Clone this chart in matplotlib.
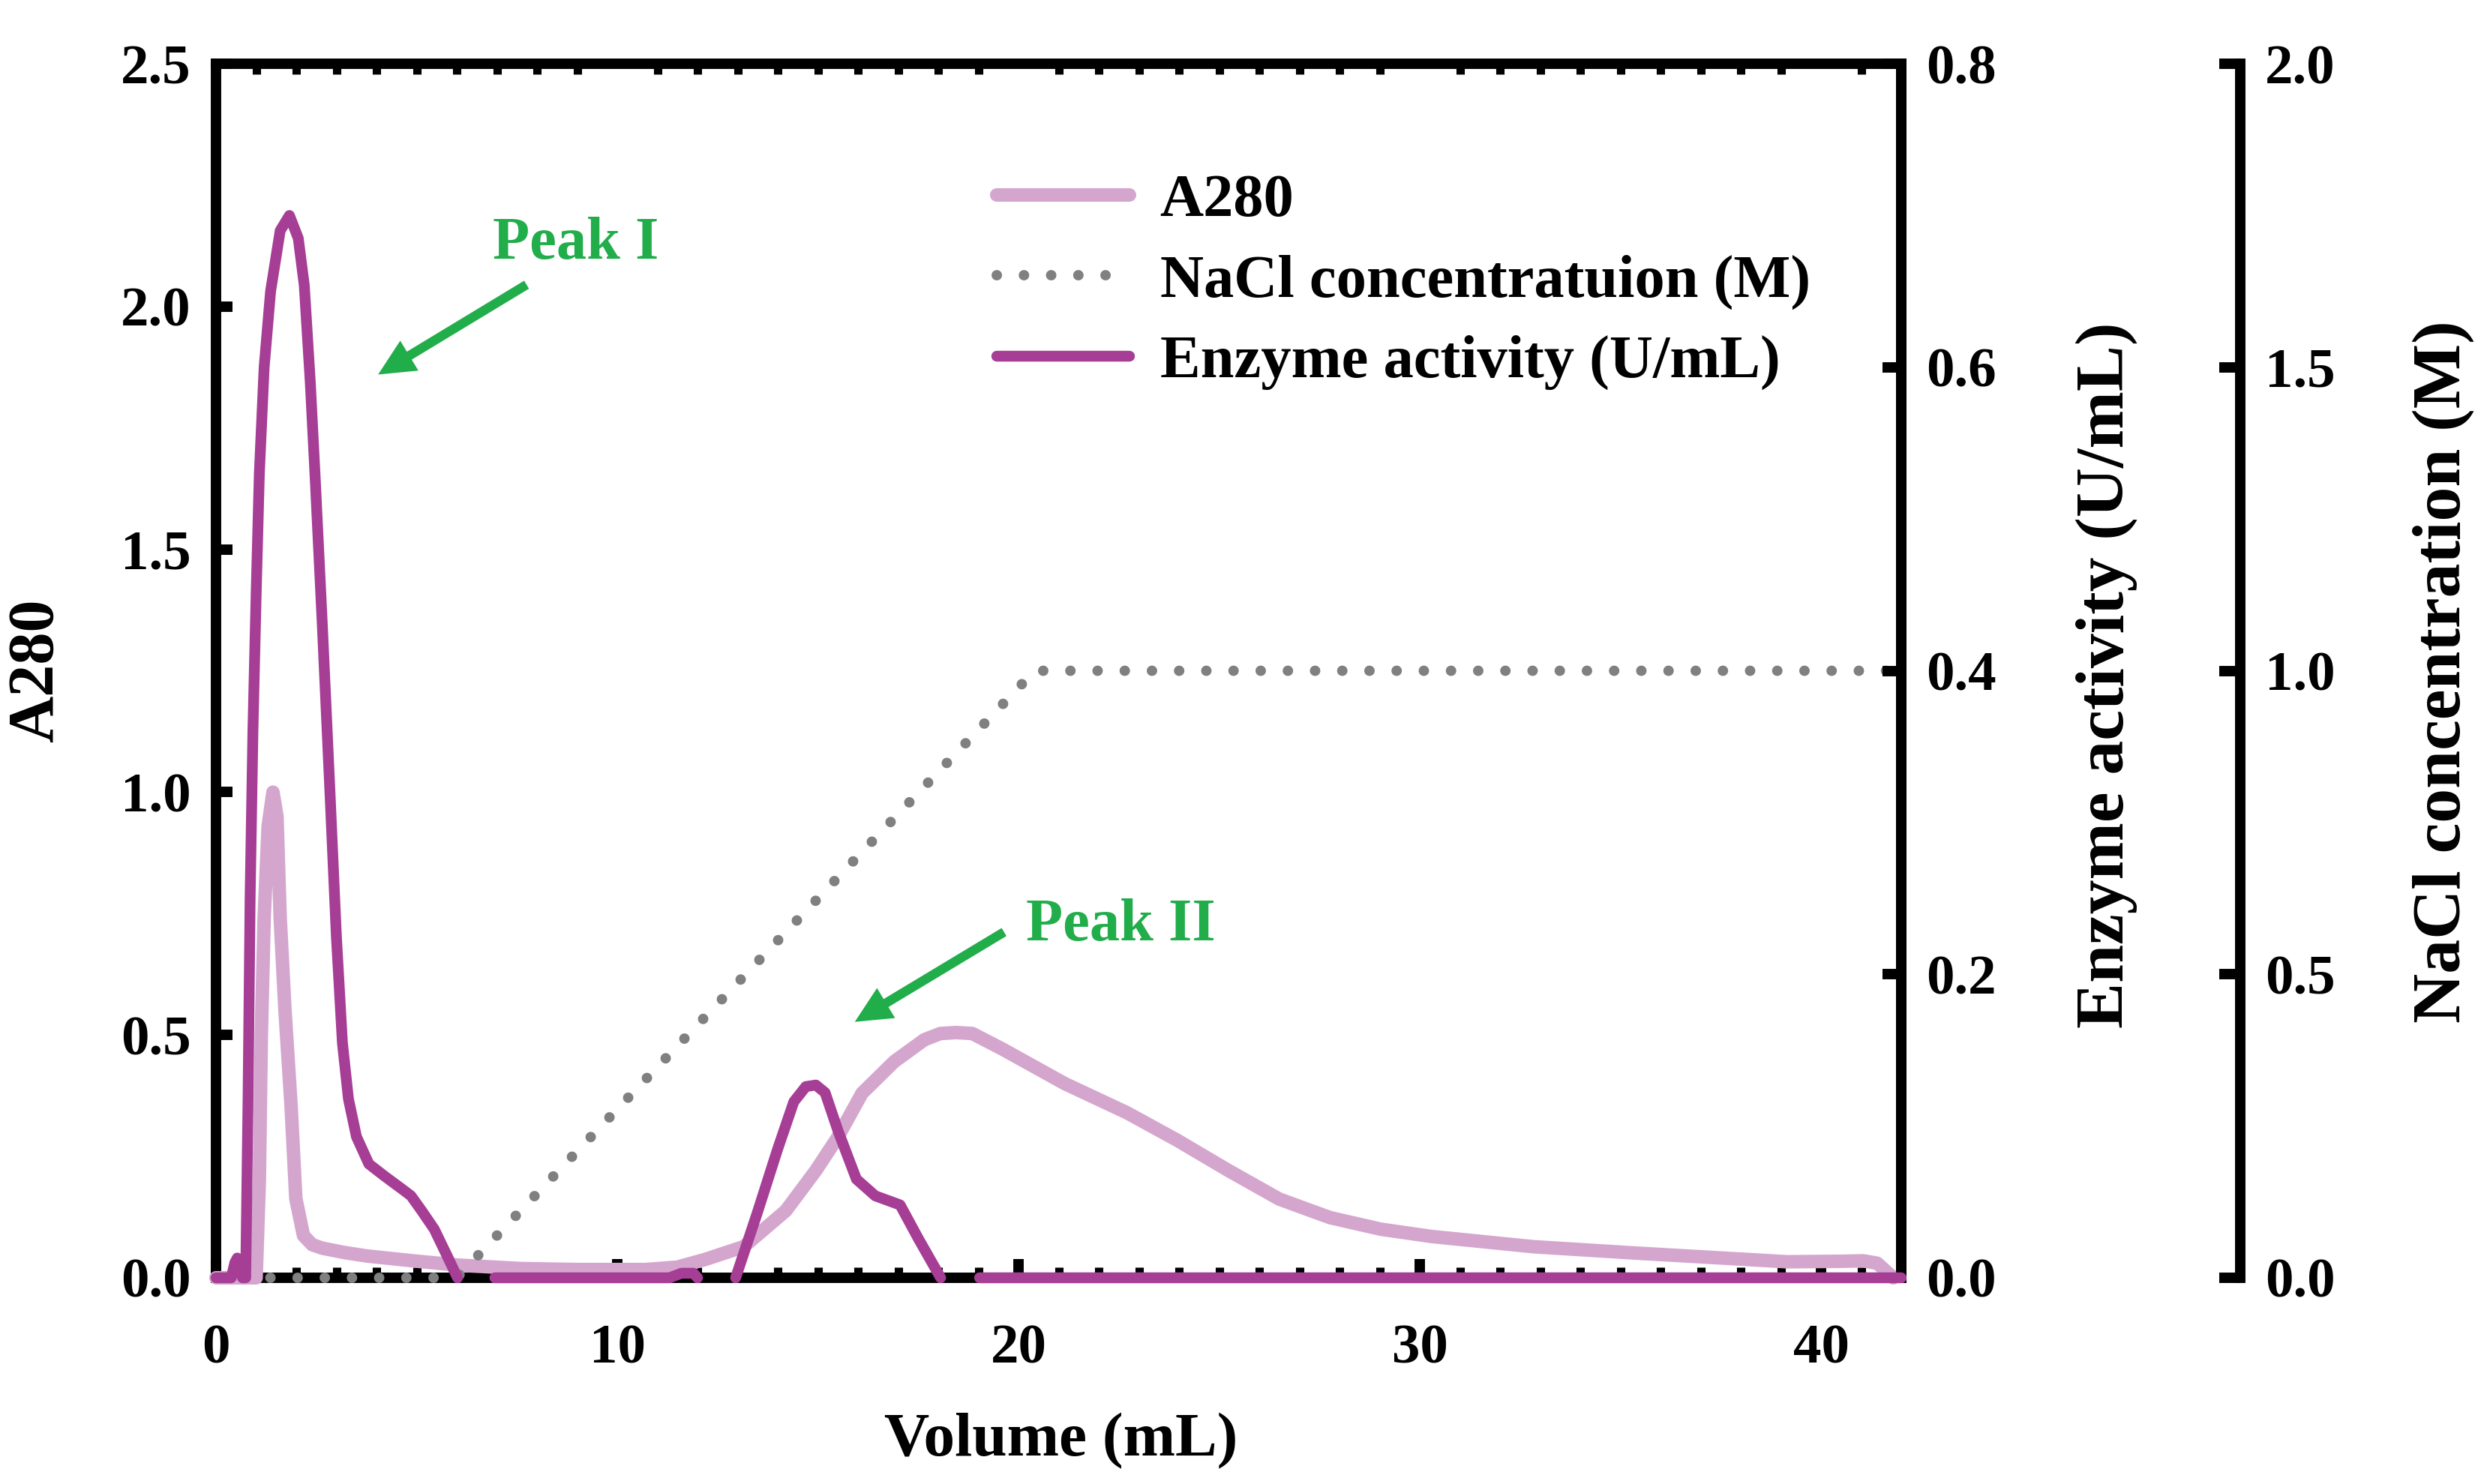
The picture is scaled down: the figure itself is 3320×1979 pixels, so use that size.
import matplotlib
matplotlib.use('Agg')
import matplotlib.pyplot as plt
import matplotlib.ticker as mticker

nan = float('nan')

# ---------------- data ----------------
volume_a280 = [0, 0.9, 1.0, 1.08, 1.13, 1.2, 1.3, 1.42, 1.52, 1.6, 1.72, 1.87, 1.99,
               2.18, 2.4, 2.65, 3.2, 3.75, 4.9, 6.05, 7.6, 9.0, 10.7, 11.5, 12.2,
               13.15, 14.2, 14.95, 15.5, 16.1, 16.9, 17.65, 18.05, 18.45, 18.85,
               19.6, 21.15, 22.7, 23.96, 25.23, 26.5, 27.76, 29.03, 30.3, 32.83,
               35.36, 37.89, 39.15, 40.5, 41.05, 41.4, 41.6, 41.8]
a280 = [0, 0, 0.0, 0.2, 0.5, 0.74, 0.93, 1.0, 0.95, 0.74, 0.55, 0.356, 0.163,
        0.087, 0.068, 0.061, 0.052, 0.045, 0.035, 0.026, 0.019, 0.017, 0.017, 0.022, 0.038,
        0.064, 0.138, 0.221, 0.29, 0.38, 0.445, 0.49, 0.503, 0.505, 0.503,
        0.471, 0.40, 0.34, 0.283, 0.221, 0.162, 0.124, 0.10, 0.085, 0.064,
        0.051, 0.039, 0.033, 0.034, 0.035, 0.03, 0.015, 0.0]

volume_enzyme = [0, 0.38, 0.47, 0.53, 0.6, 0.66, 0.74, 0.80, 0.85, 0.92, 1.0, 1.08, 1.2,
                 1.36, 1.6, 1.83, 2.05, 2.2, 2.35, 2.47, 2.65, 2.84, 3.0, 3.15, 3.3,
                 3.5, 3.81, 4.2, 4.66, 4.86, 5.13, 5.44, 5.75, 6.02,
                 6.5,
                 6.95, 11.3, 11.6, 11.9, 12.0,
                 12.5,
                 12.95, 13.48, 14.0, 14.4, 14.7, 14.95, 15.18, 15.5, 15.96, 16.43,
                 17.05, 17.5, 18.06,
                 18.5,
                 19.03, 42.0]
enzyme = [0, 0, 0.01, 0.013, 0.008, 0.0, 0.0, 0.12, 0.25, 0.36, 0.45, 0.53, 0.60,
          0.65, 0.69, 0.70, 0.685, 0.654, 0.59, 0.528, 0.43, 0.32, 0.225, 0.155, 0.118,
          0.093, 0.075, 0.067, 0.058, 0.054, 0.044, 0.032, 0.015, 0.0,
          nan,
          0.0, 0.0, 0.003, 0.003, 0.0,
          nan,
          0.0, 0.042, 0.085, 0.116, 0.126, 0.127, 0.122, 0.097, 0.065, 0.054,
          0.048, 0.026, 0.0,
          nan,
          0.0, 0.0]

volume_nacl = [0, 6.0, 20.4, 42.0]
nacl = [0, 0, 1.0, 1.0]

x_ticks = [0, 10, 20, 30, 40]
a280_ticks = [0, 0.5, 1.0, 1.5, 2.0, 2.5]
enzyme_ticks = [0, 0.2, 0.4, 0.6, 0.8]
nacl_ticks = [0, 0.5, 1.0, 1.5, 2.0]

legend_labels = ['A280', 'NaCl concentratuion (M)', 'Enzyme activity (U/mL)']

# ---------------- style ----------------
plt.rcParams['font.family'] = ['Liberation Serif', 'DejaVu Serif']
plt.rcParams['font.weight'] = 'bold'

C_A280 = '#d4a6ce'
C_ENZ = '#a63e96'
C_NACL = '#808080'
C_GREEN = '#22ad4b'

W, H = 3320, 1979
fig = plt.figure(figsize=(W / 200, H / 200), dpi=200)
L, R, T, B = 288, 2535, 85, 1704
ax = fig.add_axes([L / W, 1 - B / H, (R - L) / W, (B - T) / H])
ax3 = ax.twinx()   # NaCl (drawn below enzyme)
ax2 = ax.twinx()   # enzyme

SPINE_W = 5

# main axis
l_a280, = ax.plot(volume_a280, a280, color=C_A280, lw=6.5, solid_joinstyle='round',
                  solid_capstyle='round', zorder=3, clip_on=False)
ax.set_xlim(0, 42)
ax.set_ylim(0, 2.5)
ax.set_xticks(x_ticks)
ax.xaxis.set_minor_locator(mticker.MultipleLocator(1))
ax.set_yticks(a280_ticks)
ax.yaxis.set_major_formatter(mticker.FormatStrFormatter('%.1f'))
for s in ax.spines.values():
    s.set_linewidth(SPINE_W)
ax.tick_params(axis='y', which='major', direction='in', length=8, width=5,
               labelsize=27, pad=12)
ax.tick_params(axis='x', which='major', direction='in', length=9, width=5,
               labelsize=27, pad=22, top=False)
ax.tick_params(axis='x', which='minor', direction='in', length=5, width=4,
               top=True, bottom=True)

# NaCl axis
l_nacl, = ax3.plot(volume_nacl, nacl, color=C_NACL, lw=5,
                   linestyle=(0, (0.01, 2.6)), dash_capstyle='round',
                   zorder=3, clip_on=False)
ax3.set_ylim(0, 2.0)
ax3.set_yticks(nacl_ticks)
ax3.yaxis.set_major_formatter(mticker.FormatStrFormatter('%.1f'))
for k in ['left', 'top', 'bottom']:
    ax3.spines[k].set_visible(False)
ax3.spines['right'].set_position(('axes', (2987 - L) / (R - L)))
ax3.spines['right'].set_linewidth(SPINE_W)
ax3.tick_params(axis='y', direction='in', length=10, width=5, labelsize=27, pad=12)

# enzyme axis
l_enz, = ax2.plot(volume_enzyme, enzyme, color=C_ENZ, lw=5.2, solid_joinstyle='round',
                  solid_capstyle='round', zorder=3, clip_on=False)
ax2.set_ylim(0, 0.8)
ax2.set_yticks(enzyme_ticks)
ax2.yaxis.set_major_formatter(mticker.FormatStrFormatter('%.1f'))
for k in ['left', 'top', 'bottom']:
    ax2.spines[k].set_visible(False)
ax2.spines['right'].set_linewidth(SPINE_W)
ax2.tick_params(axis='y', direction='in', length=9, width=5, labelsize=27, pad=12)

# axis labels
fig.text(49 / W, 1 - 894 / H, 'A280', rotation=90, ha='center', va='center',
         fontsize=31, fontweight='bold')
fig.text(1415 / W, 1 - 1922 / H, 'Volume (mL)', ha='center', va='center',
         fontsize=30, fontweight='bold')
fig.text(2809 / W, 1 - 900 / H, 'Enzyme activity (U/mL)', rotation=90, ha='center',
         va='center', fontsize=33, fontweight='bold')
fig.text(3258 / W, 1 - 896 / H, 'NaCl concentration (M)', rotation=90, ha='center',
         va='center', fontsize=33, fontweight='bold')

# legend
fig.legend([l_a280, l_nacl, l_enz], legend_labels, loc='upper left',
           bbox_to_anchor=(1329 / W, 1 - 232 / H), frameon=False, fontsize=29,
           handlelength=2.2, handletextpad=0.5, labelspacing=0.42,
           borderpad=0, borderaxespad=0)

# annotations
arrow_style = 'simple,head_length=1.25,head_width=1.2,tail_width=0.32'
ax.annotate('', xy=(4.04, 1.86), xytext=(7.74, 2.045),
            arrowprops=dict(arrowstyle=arrow_style, color=C_GREEN, mutation_scale=14,
                            shrinkA=0, shrinkB=0, lw=0))
ax.text(6.89, 2.099, 'Peak I', color=C_GREEN, fontsize=29, fontweight='bold',
        ha='left', va='baseline')
ax.annotate('', xy=(15.92, 0.527), xytext=(19.64, 0.712),
            arrowprops=dict(arrowstyle=arrow_style, color=C_GREEN, mutation_scale=14,
                            shrinkA=0, shrinkB=0, lw=0))
ax.text(20.19, 0.695, 'Peak II', color=C_GREEN, fontsize=29, fontweight='bold',
        ha='left', va='baseline')

fig.savefig('out.png', dpi=200)
